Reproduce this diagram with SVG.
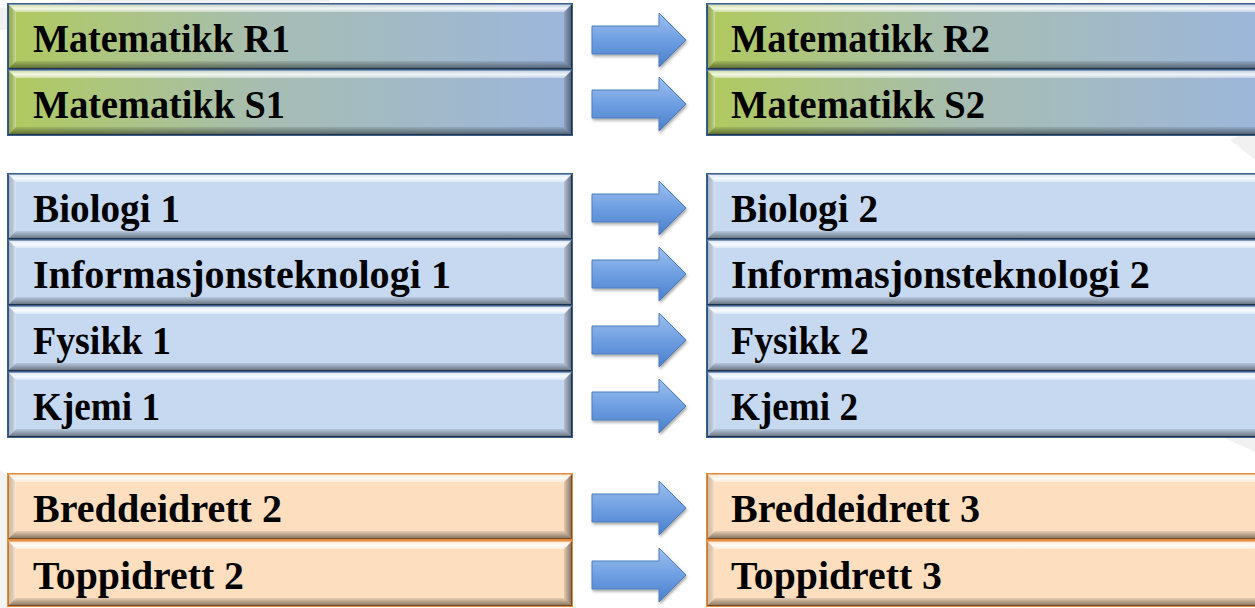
<svg xmlns="http://www.w3.org/2000/svg" width="1255" height="608" viewBox="0 0 1255 608">
<defs>
<linearGradient id="gMath" x1="0" y1="0" x2="1" y2="0">
<stop offset="0" stop-color="#b0ca5e"/>
<stop offset="0.45" stop-color="#a7bdb2"/>
<stop offset="1" stop-color="#9cb6dc"/>
</linearGradient>
<linearGradient id="topBev" x1="0" y1="0" x2="0" y2="1">
<stop offset="0" stop-color="#ffffff" stop-opacity="0.3"/>
<stop offset="0.55" stop-color="#ffffff" stop-opacity="0.85"/>
<stop offset="1" stop-color="#ffffff" stop-opacity="0.4"/>
</linearGradient>
<linearGradient id="botBev" x1="0" y1="0" x2="0" y2="1">
<stop offset="0" stop-color="#000000" stop-opacity="0.08"/>
<stop offset="1" stop-color="#000000" stop-opacity="0.5"/>
</linearGradient>
<linearGradient id="leftBev" x1="0" y1="0" x2="1" y2="0">
<stop offset="0" stop-color="#000000" stop-opacity="0.15"/>
<stop offset="1" stop-color="#ffffff" stop-opacity="0.35"/>
</linearGradient>
<linearGradient id="rightBev" x1="0" y1="0" x2="1" y2="0">
<stop offset="0" stop-color="#000000" stop-opacity="0.1"/>
<stop offset="1" stop-color="#000000" stop-opacity="0.5"/>
</linearGradient>
<linearGradient id="gArrow" x1="0" y1="0" x2="0" y2="1">
<stop offset="0" stop-color="#9dc0ee"/>
<stop offset="0.5" stop-color="#6f9fe2"/>
<stop offset="1" stop-color="#4a7fcd"/>
</linearGradient>
<filter id="shadow" x="-10%" y="-20%" width="130%" height="160%">
<feGaussianBlur in="SourceAlpha" stdDeviation="1.5"/>
<feOffset dx="1" dy="2" result="b"/>
<feComponentTransfer><feFuncA type="linear" slope="0.35"/></feComponentTransfer>
<feMerge><feMergeNode/><feMergeNode in="SourceGraphic"/></feMerge>
</filter>
<g id="bevel">
<polygon points="0,0 564,0 556,8 8,8" fill="url(#topBev)"/>
<polygon points="0,0 8,8 8,57 0,65" fill="url(#leftBev)"/>
<polygon points="0,65 8,57 556,57 564,65" fill="url(#botBev)"/>
<polygon points="564,0 564,65 556,57 556,8" fill="url(#rightBev)"/>
</g>
<path id="arrow" d="M0,-14 H67 V-27 L94,0 L67,27 V14 H0 Z"/>
</defs>
<style>
.math{fill:url(#gMath);stroke:#3a5f8b;stroke-width:2}
.blue{fill:#c6d9f1;stroke:#3a5f8b;stroke-width:2}
.orange{fill:#fddfbf;stroke:#e38d41;stroke-width:2}
.lbl{font-family:"Liberation Serif","Times New Roman",serif;font-weight:bold;font-size:39px;fill:#000}
.arr{fill:url(#gArrow);stroke:#4a7ebb;stroke-width:1;filter:url(#shadow)}
.bg{fill:#f1f1f1}
</style>
<rect width="1255" height="608" fill="#ffffff"/>
<g id="background">
<path class="bg" d="M0,8 C90,-4 200,-6 330,0 L330,2 C220,6 110,14 0,30 Z"/>
<path class="bg" d="M0,470 C40,500 45,560 10,608 L0,608 Z" opacity="0.8"/>
<path class="bg" d="M1230,140 L1255,128 L1255,160 Z"/>
<path class="bg" d="M1225,438 L1255,438 L1255,452 Z"/>
</g>
<g id="connectors">
<use href="#arrow" class="arr" x="592" y="40"/>
<use href="#arrow" class="arr" x="592" y="104"/>
<use href="#arrow" class="arr" x="592" y="208"/>
<use href="#arrow" class="arr" x="592" y="274"/>
<use href="#arrow" class="arr" x="592" y="340"/>
<use href="#arrow" class="arr" x="592" y="406"/>
<use href="#arrow" class="arr" x="592" y="508"/>
<use href="#arrow" class="arr" x="592" y="575"/>
</g>
<g id="matR1"><rect class="math" x="8" y="4" width="564" height="65"/><use href="#bevel" x="8" y="4"/><text class="lbl" x="33" y="52" textLength="257" lengthAdjust="spacingAndGlyphs">Matematikk R1</text></g>
<g id="matS1"><rect class="math" x="8" y="70" width="564" height="65"/><use href="#bevel" x="8" y="70"/><text class="lbl" x="33" y="118" textLength="252" lengthAdjust="spacingAndGlyphs">Matematikk S1</text></g>
<g id="bio1"><rect class="blue" x="8" y="174" width="564" height="65"/><use href="#bevel" x="8" y="174"/><text class="lbl" x="33" y="222" textLength="147" lengthAdjust="spacingAndGlyphs">Biologi 1</text></g>
<g id="it1"><rect class="blue" x="8" y="240" width="564" height="65"/><use href="#bevel" x="8" y="240"/><text class="lbl" x="33" y="288" textLength="418" lengthAdjust="spacingAndGlyphs">Informasjonsteknologi 1</text></g>
<g id="fys1"><rect class="blue" x="8" y="306" width="564" height="65"/><use href="#bevel" x="8" y="306"/><text class="lbl" x="33" y="354" textLength="138" lengthAdjust="spacingAndGlyphs">Fysikk 1</text></g>
<g id="kje1"><rect class="blue" x="8" y="372" width="564" height="65"/><use href="#bevel" x="8" y="372"/><text class="lbl" x="33" y="420" textLength="127" lengthAdjust="spacingAndGlyphs">Kjemi 1</text></g>
<g id="bre2"><rect class="orange" x="8" y="474" width="564" height="65"/><use href="#bevel" x="8" y="474"/><text class="lbl" x="33" y="522" textLength="249" lengthAdjust="spacingAndGlyphs">Breddeidrett 2</text></g>
<g id="top2"><rect class="orange" x="8" y="541" width="564" height="65"/><use href="#bevel" x="8" y="541"/><text class="lbl" x="33" y="589" textLength="211" lengthAdjust="spacingAndGlyphs">Toppidrett 2</text></g>
<g id="matR2"><rect class="math" x="707" y="4" width="564" height="65"/><use href="#bevel" x="707" y="4"/><text class="lbl" x="731" y="52" textLength="259" lengthAdjust="spacingAndGlyphs">Matematikk R2</text></g>
<g id="matS2"><rect class="math" x="707" y="70" width="564" height="65"/><use href="#bevel" x="707" y="70"/><text class="lbl" x="731" y="118" textLength="254" lengthAdjust="spacingAndGlyphs">Matematikk S2</text></g>
<g id="bio2"><rect class="blue" x="707" y="174" width="564" height="65"/><use href="#bevel" x="707" y="174"/><text class="lbl" x="731" y="222" textLength="147" lengthAdjust="spacingAndGlyphs">Biologi 2</text></g>
<g id="it2"><rect class="blue" x="707" y="240" width="564" height="65"/><use href="#bevel" x="707" y="240"/><text class="lbl" x="731" y="288" textLength="419" lengthAdjust="spacingAndGlyphs">Informasjonsteknologi 2</text></g>
<g id="fys2"><rect class="blue" x="707" y="306" width="564" height="65"/><use href="#bevel" x="707" y="306"/><text class="lbl" x="731" y="354" textLength="138" lengthAdjust="spacingAndGlyphs">Fysikk 2</text></g>
<g id="kje2"><rect class="blue" x="707" y="372" width="564" height="65"/><use href="#bevel" x="707" y="372"/><text class="lbl" x="731" y="420" textLength="127" lengthAdjust="spacingAndGlyphs">Kjemi 2</text></g>
<g id="bre3"><rect class="orange" x="707" y="474" width="564" height="65"/><use href="#bevel" x="707" y="474"/><text class="lbl" x="731" y="522" textLength="249" lengthAdjust="spacingAndGlyphs">Breddeidrett 3</text></g>
<g id="top3"><rect class="orange" x="707" y="541" width="564" height="65"/><use href="#bevel" x="707" y="541"/><text class="lbl" x="731" y="589" textLength="211" lengthAdjust="spacingAndGlyphs">Toppidrett 3</text></g>
</svg>
